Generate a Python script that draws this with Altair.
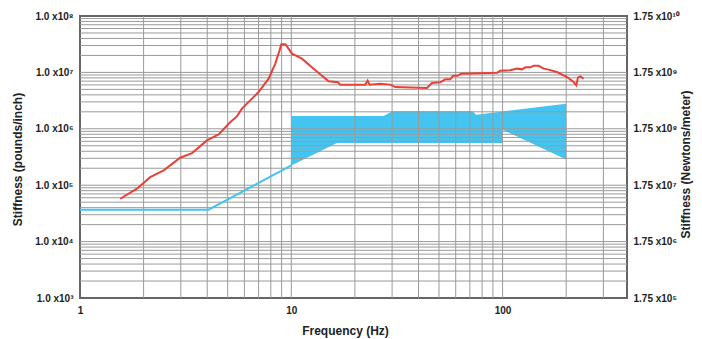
import altair as alt
import pandas as pd

# ---------------- data ----------------
red_freq = [1.55, 1.86, 2.15, 2.49, 2.98, 3.39, 3.99, 4.53, 5.15, 5.53,
            5.84, 7.0, 7.81, 8.4, 8.8, 8.97, 9.37, 9.54, 10.08, 11.23,
            12.75, 15.02, 16.6, 17.06, 22.4, 22.97, 23.48, 26.38, 29.41, 31.06,
            43.87, 46.3, 50.7, 53.56, 56.56, 58.25, 61.24, 63.55, 94.1, 97.5,
            108.7, 117, 123.6, 128.1, 135.2, 140.2, 148.1, 156.3, 165.1, 180.9,
            201.7, 216.8, 223.3, 227.4, 233.2, 241.7]
red_k = [57500, 86600, 139000, 183000, 307000, 371000, 623000, 796000, 1.315e6, 1.66e6,
         2.275e6, 4.48e6, 7.75e6, 1.43e7, 2.46e7, 3.15e7, 3.15e7, 2.90e7, 2.15e7, 1.75e7,
         1.166e7, 6.94e6, 6.67e6, 6.07e6, 6.07e6, 7.14e6, 6.07e6, 6.32e6, 6.07e6, 5.50e6,
         5.28e6, 6.47e6, 6.66e6, 7.53e6, 7.53e6, 8.69e6, 8.69e6, 9.43e6, 9.82e6, 1.074e7,
         1.088e7, 1.166e7, 1.133e7, 1.23e7, 1.23e7, 1.307e7, 1.307e7, 1.166e7, 1.12e7, 1.015e7,
         8.27e6, 6.74e6, 5.89e6, 8.07e6, 8.51e6, 7.75e6]

blue_freq = [1, 4.06, 10]
blue_k = [36700, 36700, 224000]

band_freq = [10, 16.45, 27.3, 30.1, 72, 75, 100, 100.01, 200]
band_lo = [224000, 558000, 558000, 558000, 558000, 558000, 558000, 965000, 287000]
band_hi = [1.68e6, 1.68e6, 1.68e6, 2.04e6, 2.04e6, 1.78e6, 2.03e6, 2.03e6, 2.79e6]

x_label_vals = [1, 10, 100]
y_label_vals = [1e3, 1e4, 1e5, 1e6, 1e7, 1e8]
y_labels = ["1.0 x10³", "1.0 x10⁴", "1.0 x10⁵", "1.0 x10⁶", "1.0 x10⁷", "1.0 x10⁸"]
r_label_vals = [1.75e5, 1.75e6, 1.75e7, 1.75e8, 1.75e9, 1.75e10]
r_labels = ["1.75 x10⁵", "1.75 x10⁶", "1.75 x10⁷", "1.75 x10⁸", "1.75 x10⁹", "1.75 x10¹⁰"]

x_grid = [m * 10 ** d for d in range(0, 3) for m in range(1, 10)]
x_grid = [v for v in x_grid if 1 < v <= 300]
y_grid = [m * 10 ** d for d in range(3, 8) for m in range(1, 10)]
y_grid = [v for v in y_grid if 1e3 < v < 1e8]

RED = "#e8413a"
BLUE = "#44c4f0"
GRID = "#9a9a9a"
FONT = "Liberation Sans"
TXT = "#222222"

red_df = pd.DataFrame({"f": red_freq, "k": red_k})
blue_df = pd.DataFrame({"f": blue_freq, "k": blue_k})
band_df = pd.DataFrame({"f": band_freq, "lo": band_lo, "hi": band_hi})
xg_df = pd.DataFrame({"f": x_grid})
yg_df = pd.DataFrame({"k": y_grid})
r_df = pd.DataFrame({"n": r_label_vals})

xs = alt.Scale(type="log", domain=[1, 388], nice=False)
ys = alt.Scale(type="log", domain=[1e3, 1e8], nice=False)

y_expr = "[" + ",".join("'%s'" % s for s in y_labels) + "][round(log(datum.value)/LN10)-3]"
r_expr = "[" + ",".join("'%s'" % s for s in r_labels) + "][round(log(datum.value/1.75)/LN10)-5]"

x_axis = alt.Axis(
    values=x_label_vals, format="d", title="Frequency (Hz)", grid=False,
    ticks=False, domain=False, labelFlush=False, labelPadding=7,
    labelFont=FONT, labelFontSize=10, labelFontWeight="bold", labelColor=TXT,
    titleFont=FONT, titleFontSize=12, titleFontWeight="bold", titleColor=TXT,
    titleX=265, titleY=32, titleAlign="center", titleBaseline="middle",
)
y_axis = alt.Axis(
    values=y_label_vals, labelExpr=y_expr, title="Stiffness (pounds/inch)",
    grid=False, ticks=False, domain=False, labelPadding=7,
    labelFont=FONT, labelFontSize=10, labelFontWeight="bold", labelColor=TXT,
    titleFont=FONT, titleFontSize=12, titleFontWeight="bold", titleColor=TXT,
    titleX=-63, titleY=143, titleAngle=270, titleAlign="center", titleBaseline="middle",
)

X = alt.X("f:Q", scale=xs, axis=x_axis, title="Frequency (Hz)")
Y = alt.Y("k:Q", scale=ys, axis=y_axis, title="Stiffness (pounds/inch)")

band = alt.Chart(band_df).mark_area(color=BLUE, opacity=1).encode(
    x=X,
    y=alt.Y("lo:Q", scale=ys, axis=y_axis, title="Stiffness (pounds/inch)"),
    y2="hi:Q",
)

vgrid = alt.Chart(xg_df).mark_rule(color=GRID, strokeWidth=1).encode(x=X)
hgrid = alt.Chart(yg_df).mark_rule(color=GRID, strokeWidth=1).encode(y=Y)

blue_line = alt.Chart(blue_df).mark_line(color=BLUE, strokeWidth=2).encode(x=X, y=Y)
red_line = alt.Chart(red_df).mark_line(color=RED, strokeWidth=2).encode(x=X, y=Y)

left = alt.layer(band, vgrid, hgrid, blue_line, red_line)

right = alt.Chart(r_df).mark_rule(opacity=0).encode(
    y=alt.Y(
        "n:Q",
        scale=alt.Scale(type="log", domain=[1.75e5, 1.75e10], nice=False),
        axis=alt.Axis(
            orient="right", values=r_label_vals, labelExpr=r_expr,
            title="Stiffness (Newtons/meter)", grid=False, ticks=False, domain=False,
            labelPadding=6, labelFont=FONT, labelFontSize=10, labelFontWeight="bold",
            labelColor=TXT, titleFont=FONT, titleFontSize=12, titleFontWeight="bold",
            titleColor=TXT, titleX=58, titleY=148, titleAngle=270, titleAlign="center",
            titleBaseline="middle",
        ),
    )
)

chart = (
    alt.layer(left, right)
    .resolve_scale(y="independent")
    .properties(
        width=547, height=282,
        padding={"left": 72, "top": 8, "right": 67, "bottom": 41},
        autosize=alt.AutoSizeParams(type="none"),
        background="white",
    )
    .configure_view(stroke="#666666", strokeWidth=2)
)

chart.save("out.html", embed_options={"renderer": "svg", "actions": False})
